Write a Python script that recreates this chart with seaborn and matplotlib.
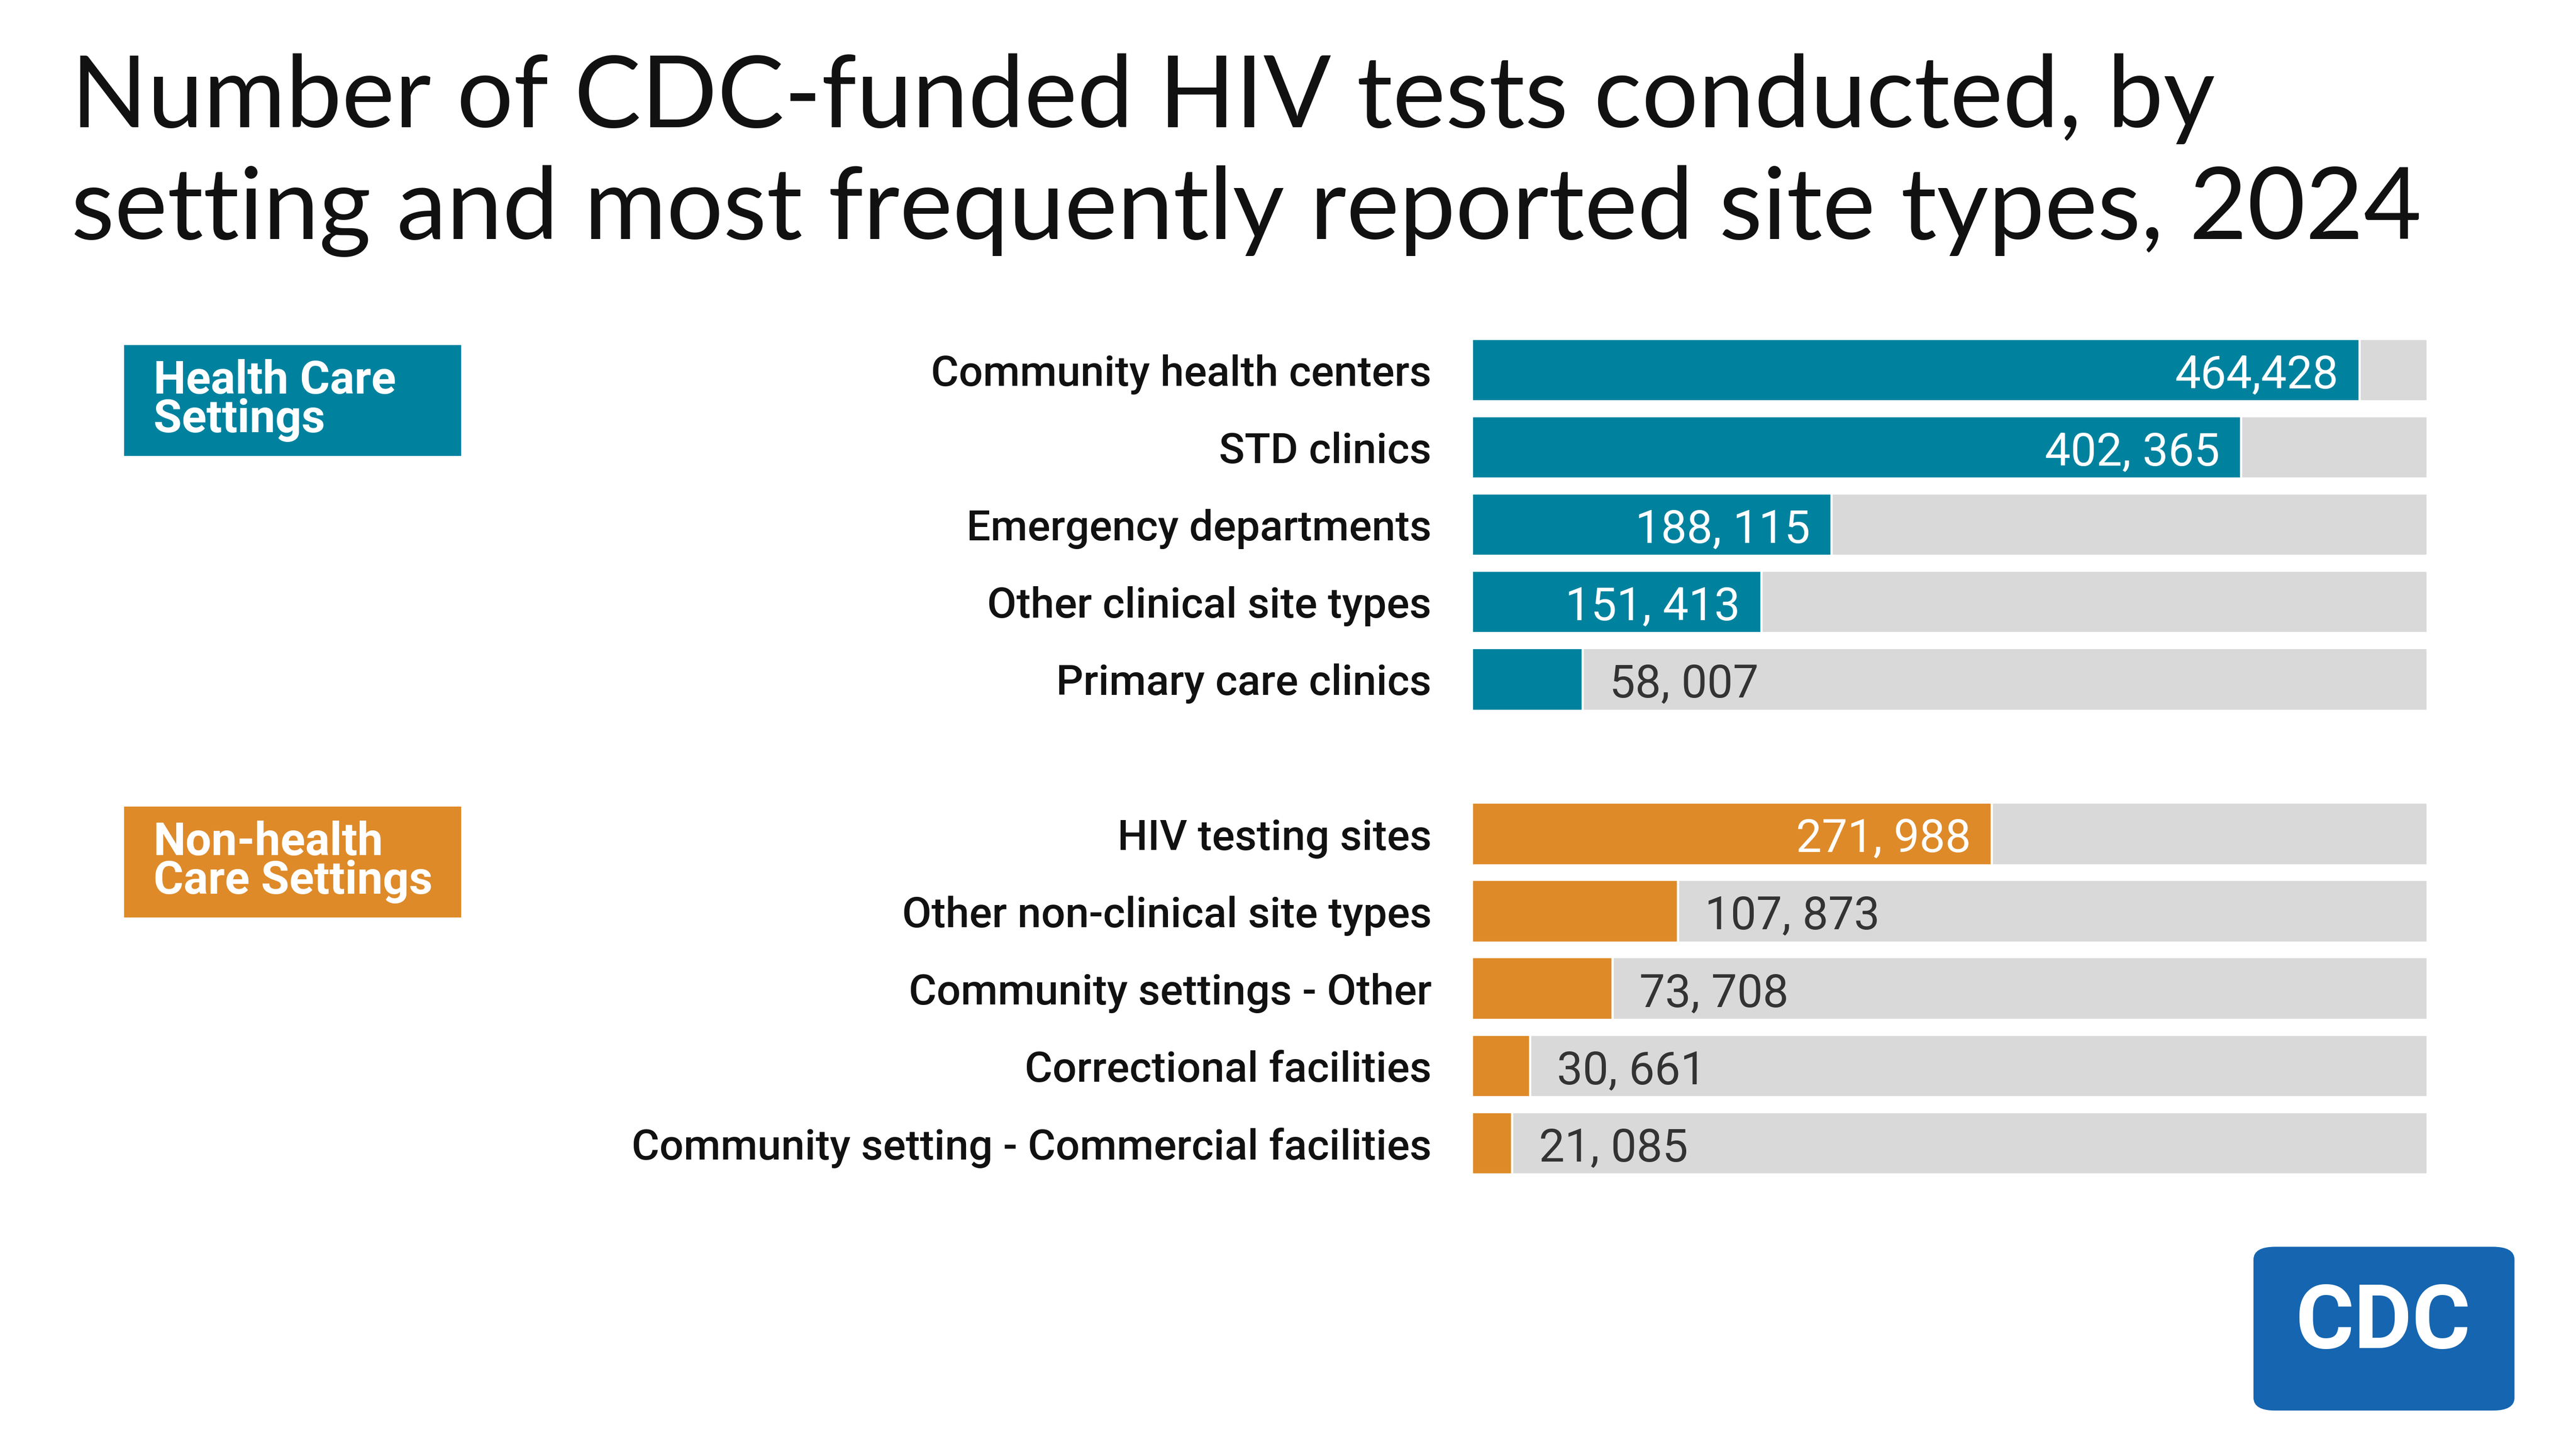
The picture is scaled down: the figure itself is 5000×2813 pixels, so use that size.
import seaborn as sns
import pandas as pd
import matplotlib.pyplot as plt
from matplotlib.patches import FancyBboxPatch, Rectangle

health_sites = ['Community health centers', 'STD clinics', 'Emergency departments',
                'Other clinical site types', 'Primary care clinics']
health_values = [464428, 402365, 188115, 151413, 58007]
health_labels = ['464,428', '402, 365', '188, 115', '151, 413', '58, 007']

nonhealth_sites = ['HIV testing sites', 'Other non-clinical site types', 'Community settings - Other',
                   'Correctional facilities', 'Community setting - Commercial facilities']
nonhealth_values = [271988, 107873, 73708, 30661, 21085]
nonhealth_labels = ['271, 988', '107, 873', '73, 708', '30, 661', '21, 085']

axis_max = 500000
teal, orange, grey = '#00829F', '#DE8A29', '#D9D9D9'

df = pd.DataFrame({
    'site': health_sites + nonhealth_sites,
    'tests': health_values + nonhealth_values,
    'label': health_labels + nonhealth_labels,
    'setting': ['Health Care'] * 5 + ['Non-health Care'] * 5,
})
order = health_sites + [' '] + nonhealth_sites

sns.set_theme(style='white')
plt.rcParams['font.family'] = ['Roboto', 'DejaVu Sans']

fig = plt.figure(figsize=(16, 9.0016), dpi=312.5)
W, H = 1563, 879
# axes placed in the reference's pixel frame
ax = fig.add_axes([893 / W, 1 - 717 / H, 580 / W, (717 - 201) / H])

bg = df.assign(tests=axis_max)
sns.barplot(data=bg, x='tests', y='site', order=order, color=grey, width=0.81,
            saturation=1, ax=ax)
sns.barplot(data=df, x='tests', y='site', order=order, hue='setting',
            palette=[teal, orange], width=0.81, saturation=1, legend=False, ax=ax)
ax.set_xlim(0, axis_max)
ax.set_xlabel('')
ax.set_ylabel('')
ax.set_xticks([])
sns.despine(ax=ax, left=True, bottom=True)
ax.set_yticks([i for i, s in enumerate(order) if s.strip()])
ax.set_yticklabels([s for s in order if s.strip()], fontweight='medium')
ax.tick_params(axis='y', length=0, pad=18, labelsize=19, labelcolor='#111111')

for _, row in df.iterrows():
    y = order.index(row['site']) + 0.07
    if row['tests'] > 150000:
        ax.text(row['tests'] - 11000, y, row['label'], ha='right', va='center',
                color='white', fontsize=20.5)
    else:
        ax.text(row['tests'] + 14000, y, row['label'], ha='left', va='center',
                color='#333333', fontsize=20.5)

fig.text(43 / W, 1 - 60 / H, 'Number of CDC-funded HIV tests conducted, by',
         fontsize=44.8, family='Lato', color='#111111', va='center')
fig.text(43 / W, 1 - 128 / H, 'setting and most frequently reported site types, 2024',
         fontsize=44.8, family='Lato', color='#111111', va='center')

for top, color, text in [(210, teal, 'Health Care\nSettings'),
                         (490, orange, 'Non-health\nCare Settings')]:
    fig.patches.append(Rectangle((76 / W, 1 - (top + 66) / H), 203 / W, 66 / H,
                                 transform=fig.transFigure, color=color))
    fig.text(93 / W, 1 - (top + 33) / H, text, color='white', fontsize=20.5,
             fontweight='bold', va='center', linespacing=0.85)

fig.patches.append(FancyBboxPatch((1368 / W, 1 - 855 / H), 157 / W, 98 / H,
                                  boxstyle='round,pad=0,rounding_size=0.008',
                                  transform=fig.transFigure, color='#1565B0'))
fig.text(1446 / W, 1 - 803 / H, 'CDC', color='white', fontsize=40,
         fontweight='bold', ha='center', va='center')

fig.savefig('out.png')
